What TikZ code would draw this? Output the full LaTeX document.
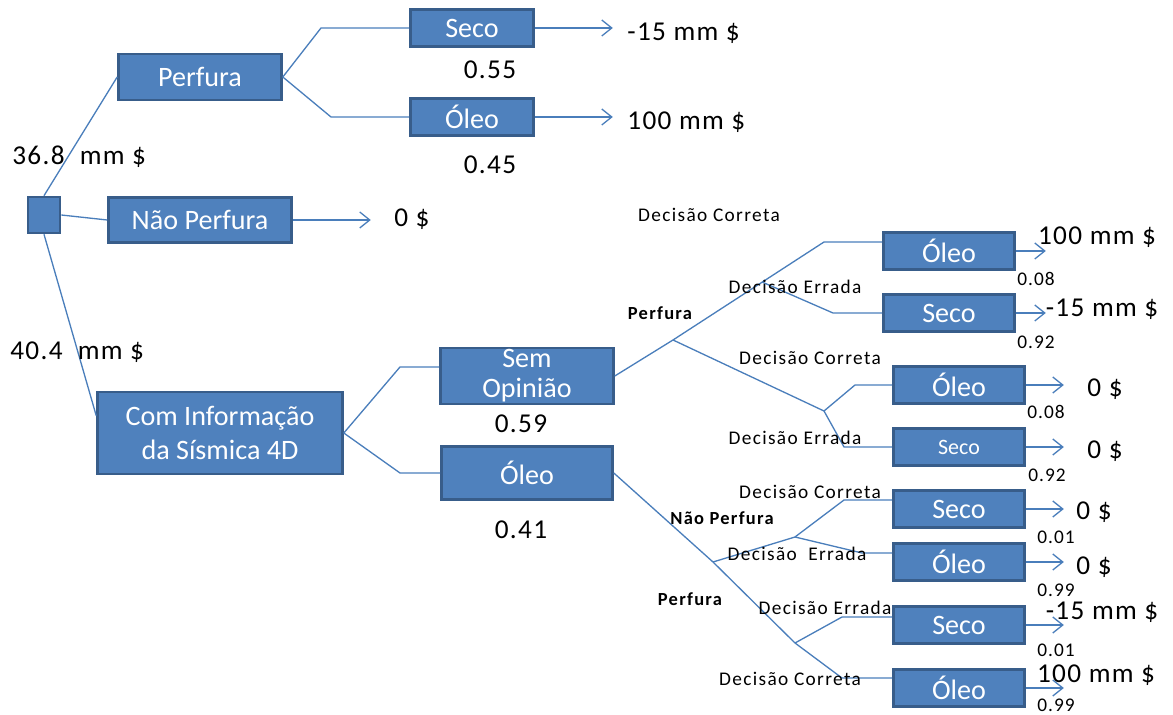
\documentclass[tikz,border=0pt]{standalone}
\usepackage{fontspec}
\setmainfont{Carlito}
\newfontfamily\trackfont{Carlito}[LetterSpace=5]
\newfontfamily\widefont{Carlito}[LetterSpace=7]
\usetikzlibrary{arrows.meta}
\definecolor{boxfill}{HTML}{4F81BD}
\definecolor{boxline}{HTML}{385D8A}
\definecolor{lnkcol}{HTML}{4A7EBB}
\newcommand{\fsz}[1]{\fontsize{#1}{#1}\selectfont}

\begin{document}
\begin{tikzpicture}[
    x=0.02cm, y=-0.02cm,
    box/.style={rectangle, draw=boxline, fill=boxfill, line width=1.5pt,
                text=white, inner sep=0pt, align=center, font=\fsz{16}},
    sbox/.style={box, minimum width=2.46cm, minimum height=0.74cm},
    rbox/.style={box, minimum width=2.62cm, minimum height=0.74cm},
    lnk/.style={draw=lnkcol, line width=0.75pt},
    arr/.style={lnk, -{Straight Barb[length=2mm, width=3.2mm]}},
    val/.style={inner sep=0pt, font=\trackfont\fsz{15.5}},
    prob/.style={inner sep=0pt, font=\trackfont\fsz{11}},
    dec/.style={inner sep=0pt, font=\widefont\fsz{11}},
    branch/.style={inner sep=0pt, font=\widefont\bfseries\fsz{10.5}},
  ]
  \useasboundingbox (0,0) rectangle (1173,715);

  % First decision
  \node[box, minimum width=0.64cm, minimum height=0.72cm] (root) at (44,215) {};
  \node[box, minimum width=3.26cm, minimum height=0.92cm] (perf) at (200,77) {Perfura};
  \node[box, minimum width=3.66cm, minimum height=0.9cm] (naoperf) at (200,220) {Não Perfura};
  \node[box, minimum width=4.9cm, minimum height=1.64cm,
        font=\fontsize{16}{19}\selectfont] (info) at (220,433) {Com Informação\\da Sísmica 4D};

  % Drill without information
  \node[sbox] (seco1) at (472,28) {Seco};
  \node[sbox] (oleo1) at (472,117) {Óleo};

  % Seismic outcome
  \node[box, minimum width=3.46cm, minimum height=1.12cm,
        font=\fontsize{16}{17}\selectfont] (semop) at (527,376) {Sem\\Opinião};
  \node[box, minimum width=3.42cm, minimum height=1.06cm] (oleo2) at (527,473) {Óleo};

  % Outcomes after seismic
  \node[rbox] (r1) at (949,251) {Óleo};
  \node[rbox] (r2) at (949,313) {Seco};
  \node[rbox] (r3) at (959,385) {Óleo};
  \node[rbox, font=\fsz{12.5}] (r4) at (959,447) {Seco};
  \node[rbox] (r5) at (959,509) {Seco};
  \node[rbox] (r6) at (959,562) {Óleo};
  \node[rbox] (r7) at (959,625) {Seco};
  \node[rbox] (r8) at (959,688) {Óleo};

  % Junctions
  \coordinate (j1) at (673,340);
  \coordinate (jA) at (762,282);
  \coordinate (j2) at (824,411);
  \coordinate (jn) at (713,562);
  \coordinate (jq) at (795,537);
  \coordinate (jp) at (795,643);
  \coordinate (k1) at (824,242);
  \coordinate (k2) at (833,313);
  \coordinate (k3) at (855,385);
  \coordinate (k4) at (844,447);
  \coordinate (k5) at (844,500);
  \coordinate (k6) at (862,553);
  \coordinate (k7) at (842,617);
  \coordinate (k8) at (842,678);
  \coordinate (b1) at (400,367);
  \coordinate (b2) at (400,473);

  % Branches
  \draw[lnk] (root.north) -- (perf.west);
  \draw[lnk] (root.east) -- (naoperf.west);
  \draw[lnk] (root.south) -- (info.172);
  \draw[lnk] (perf.east) -- (321,28) -- (seco1.west);
  \draw[lnk] (perf.east) -- (331,117) -- (oleo1.west);
  \draw[lnk] (info.east) -- (b1) -- (b1 -| semop.west);
  \draw[lnk] (info.east) -- (b2) -- (oleo2.west);
  \draw[lnk] (semop.east) -- (j1) -- (k1) -- (k1 -| r1.west);
  \draw[lnk] (jA) -- (k2) -- (r2.west);
  \draw[lnk] (j1) -- (j2) -- (k3) -- (r3.west);
  \draw[lnk] (j2) -- (k4) -- (r4.west);
  \draw[lnk] (oleo2.east) -- (jn) -- (jp);
  \draw[lnk] (jn) -- (jq);
  \draw[lnk] (jq) -- (k5) -- (k5 -| r5.west);
  \draw[lnk] (jq) -- (k6) -- (k6 -| r6.west);
  \draw[lnk] (jp) -- (k7) -- (k7 -| r7.west);
  \draw[lnk] (jp) -- (k8) -- (k8 -| r8.west);

  % Payoff arrows
  \draw[arr] (seco1.east) -- ++(78,0);
  \draw[arr] (oleo1.east) -- ++(78,0);
  \draw[arr] (naoperf.east) -- ++(78,0);
  \draw[arr] (r1.east) -- ++(30,0);
  \draw[arr] (r2.east) -- ++(30,0);
  \foreach \r in {r3,r4,r5,r6,r7,r8}
    \draw[arr] (\r.east) -- ++(38,0);

  % Expected values and payoffs
  \node[val, anchor=west] (ev1) at (12,157) {36.8\ \ mm \$};
  \node[val, anchor=west] (ev2) at (10,352) {40.4\ \ mm \$};
  \node[val, anchor=west] (p1) at (627,33) {-15 mm \$};
  \node[val, anchor=west] (p2) at (627,122) {100 mm \$};
  \node[val, anchor=west] (p3) at (394,219) {0 \$};
  \node[val] (p4) at (1097,237) {100 mm \$};
  \node[val] (p5) at (1102,309) {-15 mm \$};
  \node[val] (p6) at (1105,389) {0 \$};
  \node[val] (p7) at (1105,451) {0 \$};
  \node[val] (p8) at (1094,512) {0 \$};
  \node[val] (p9) at (1094,567) {0 \$};
  \node[val] (p10) at (1102,612) {-15 mm \$};
  \node[val] (p11) at (1096,675) {100 mm \$};

  % Probabilities
  \node[val] (q1) at (490,70) {0.55};
  \node[val] (q2) at (490,165) {0.45};
  \node[val] (q3) at (521,424) {0.59};
  \node[val] (q4) at (521,530) {0.41};
  \node[prob] (q5) at (1036,279) {0.08};
  \node[prob] (q6) at (1036,342) {0.92};
  \node[prob] (q7) at (1046,412) {0.08};
  \node[prob] (q8) at (1047,475) {0.92};
  \node[prob] (q9) at (1056,537) {0.01};
  \node[prob] (q10) at (1056,590) {0.99};
  \node[prob] (q11) at (1056,650) {0.01};
  \node[prob] (q12) at (1056,705) {0.99};

  % Decision labels
  \node[dec] (d1) at (709,215) {Decisão Correta};
  \node[dec] (d2) at (795,287) {Decisão Errada};
  \node[branch] (d3) at (660,313) {Perfura};
  \node[dec] (d4) at (810,358) {Decisão Correta};
  \node[dec] (d5) at (795,438) {Decisão Errada};
  \node[dec] (d6) at (810,492) {Decisão Correta};
  \node[branch] (d7) at (722,518) {Não Perfura};
  \node[dec] (d8) at (797,554) {Decisão\ \ Errada};
  \node[branch] (d9) at (690,599) {Perfura};
  \node[dec] (d10) at (825,608) {Decisão Errada};
  \node[dec] (d11) at (790,679) {Decisão Correta};
\end{tikzpicture}
\end{document}
